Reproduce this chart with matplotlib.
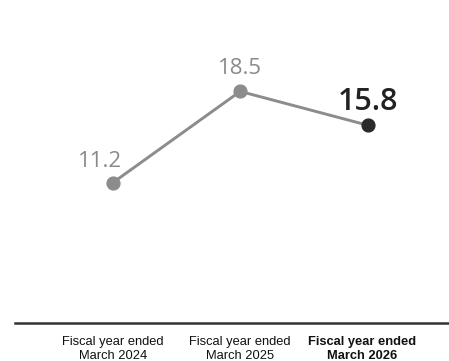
import matplotlib.pyplot as plt

# fiscal year values
years = ["Fiscal year ended\nMarch 2024", "Fiscal year ended\nMarch 2025", "Fiscal year ended\nMarch 2026"]
values = [11.2, 18.5, 15.8]
label_offsets = [(-13, 21), (0, 23), (0, 23)]
year_offsets = [0, 0, -5]

fig = plt.figure(figsize=(4.49, 3.61), dpi=100)
ax = fig.add_axes([0.033, 0.106, 0.967, 0.866])

x = list(range(len(values)))
ax.plot(x, values, color="#8c8c8c", lw=2.1, zorder=2)
ax.scatter(x[:-1], values[:-1], s=85, color="#8c8c8c", zorder=3)
ax.scatter(x[-1:], values[-1:], s=85, color="#2b2b2b", zorder=3)

for i, v in enumerate(values):
    last = i == len(values) - 1
    dx, dy = label_offsets[i]
    ax.annotate(f"{v:.1f}", (x[i], v), xytext=(dx, dy), textcoords="offset pixels",
                ha="center", va="center", family="Open Sans",
                fontsize=22 if last else 16,
                fontweight="semibold" if last else "normal",
                color="#222222" if last else "#8a8a8a")

# category labels under the baseline
for i, name in enumerate(years):
    ax.annotate(name, (x[i], 0), xycoords=("data", "axes fraction"),
                xytext=(year_offsets[i], -13), textcoords="offset pixels",
                ha="center", va="top", family="Liberation Sans", fontsize=9.3,
                linespacing=1.3, color="#111111",
                fontweight="bold" if i == len(years) - 1 else "normal",
                annotation_clip=False)

ax.set_xlim(-0.77, 2.64)
ax.set_ylim(0, 25)
ax.set_xticks([])
ax.set_yticks([])
for side in ["top", "right", "left"]:
    ax.spines[side].set_visible(False)
ax.spines["bottom"].set_color("#333333")
ax.spines["bottom"].set_linewidth(1.8)

fig.savefig("out.png", dpi=100)
